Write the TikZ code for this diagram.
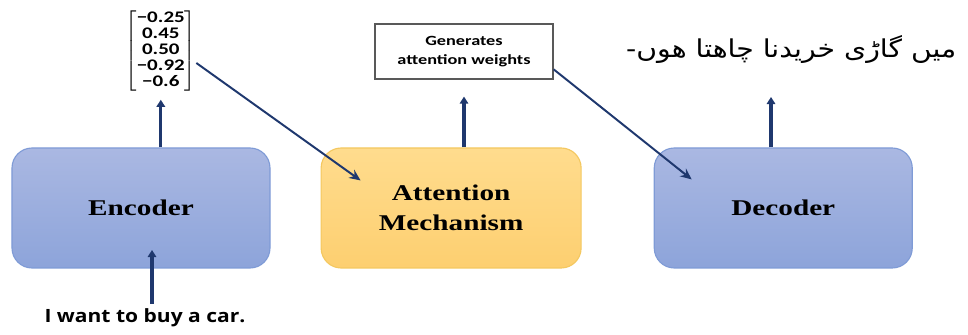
\documentclass[tikz,border=0pt]{standalone}
\usepackage{amsmath}
\usepackage{fontspec}
\usetikzlibrary{positioning, arrows.meta, calc}
\TeXXeTstate=1
\newfontfamily\boxfont[FakeStretch=1.3]{Liberation Serif}
\newfontfamily\inputfont[FakeStretch=1.15]{Open Sans}
\newfontfamily\notefont[FakeStretch=1.3]{Carlito}
\newfontfamily\urdufont[Script=Arabic, FakeStretch=1.15]{DejaVu Sans}
\definecolor{arrownavy}{RGB}{31, 56, 110}
\definecolor{bluetop}{RGB}{170, 184, 226}
\definecolor{bluebottom}{RGB}{141, 164, 218}
\definecolor{blueedge}{RGB}{127, 155, 214}
\definecolor{ambertop}{RGB}{255, 220, 142}
\definecolor{amberbottom}{RGB}{253, 207, 112}
\definecolor{amberedge}{RGB}{244, 200, 96}
\tikzset{
  block/.style={
    rounded corners=0.5cm,
    minimum width=6.45cm,
    minimum height=3cm,
    line width=0.8pt,
    align=center,
    font=\boxfont\bfseries\fontsize{16}{21}\selectfont
  },
  blueBlock/.style={
    block,
    draw=blueedge,
    top color=bluetop,
    bottom color=bluebottom
  },
  amberBlock/.style={
    block,
    draw=amberedge,
    top color=ambertop,
    bottom color=amberbottom,
    minimum width=6.5cm
  },
  noteBox/.style={
    draw=black!65,
    line width=1pt,
    fill=white,
    minimum width=4.45cm,
    minimum height=1.375cm,
    align=center,
    font=\notefont\bfseries\fontsize{10}{13.5}\selectfont
  },
  upArrow/.style={
    -{Triangle[length=5pt, width=6pt]},
    line width=2.2pt,
    draw=arrownavy
  },
  feedArrow/.style={
    -{Stealth[length=8pt, width=7pt]},
    line width=1.4pt,
    draw=arrownavy
  }
}

\begin{document}
\begin{tikzpicture}[node distance=1.25cm]
  \useasboundingbox (0,0) rectangle (24.2,8.375);

  % the three blocks
  \node[blueBlock] (encoder) at (3.525,3.175) {Encoder};
  \node[amberBlock] (attn) [right=of encoder] {Attention\\Mechanism};
  \node[blueBlock] (decoder) [right=1.8cm of attn] {Decoder};

  % input, context vector, weights and output
  \node[font=\inputfont\bfseries\fontsize{13}{15}\selectfont] (input) at (3.625,0.425) {I want to buy a car.};
  \node[inner sep=0pt, font=\notefont\bfseries\fontsize{11.5}{13}\selectfont] (vec) at (4.02,7.1)
    {$\left[\renewcommand{\arraystretch}{0.88}\begin{array}{@{}c@{}}
      \text{−0.25}\\ \text{0.45}\\ \text{0.50}\\ \text{−0.92}\\ \text{−0.6}
    \end{array}\right]$};
  \node[noteBox] (weights) at (11.6,7.09) {Generates\\attention weights};
  \node[font=\urdufont\fontsize{17.5}{20}\selectfont] (urdu) at (19.78,7.15)
    {\beginR میں گاڑی خریدنا چاهتا هوں-\endR};

  \coordinate (inTip) at (3.8,2.125);
  \coordinate (outTip) at (19.275,5.95);

  % connectors
  \draw[upArrow] (input.north -| inTip) -- (inTip);
  \draw[upArrow, shorten >=0.2cm] (encoder.north -| vec.south) -- (vec.south);
  \draw[upArrow, shorten >=0.425cm] (attn.north -| weights.south) -- (weights.south);
  \draw[upArrow] (decoder.north -| outTip) -- (outTip);
  \draw[feedArrow] ([yshift=-0.3cm]vec.east) -- ($(attn.north west)+(1.0,-0.825)$);
  \draw[feedArrow] ([yshift=-0.45cm]weights.east) -- ($(decoder.north west)+(0.95,-0.8)$);
\end{tikzpicture}
\end{document}
